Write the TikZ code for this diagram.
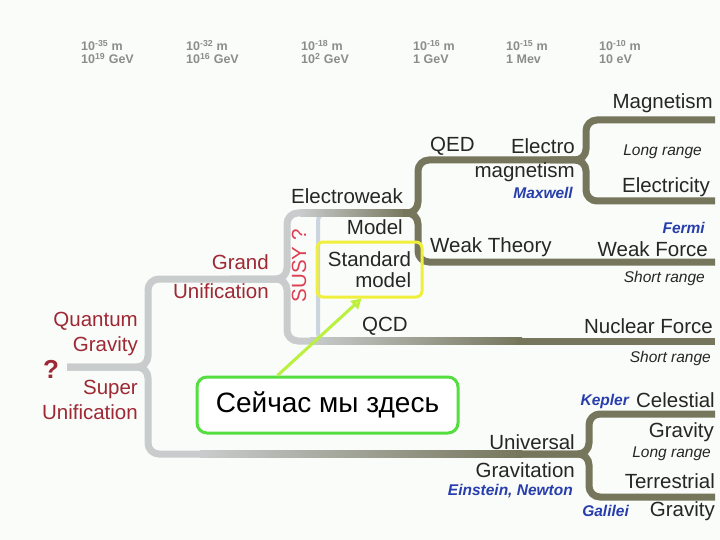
\documentclass[tikz,border=0pt]{standalone}
\usepackage{fontspec}
\setmainfont{Liberation Sans}
\usetikzlibrary{arrows.meta}

\definecolor{olivebr}{RGB}{118,118,92}
\definecolor{greybr}{RGB}{200,204,204}
\definecolor{thinbr}{RGB}{204,212,224}
\definecolor{txt}{RGB}{38,38,38}
\definecolor{gutred}{RGB}{158,40,52}
\definecolor{susyred}{RGB}{222,62,82}
\definecolor{whoblue}{RGB}{40,62,172}
\definecolor{hdrgrey}{RGB}{140,140,140}
\definecolor{smyellow}{RGB}{240,240,60}
\definecolor{heregreen}{RGB}{84,222,64}
\definecolor{pinline}{RGB}{186,240,62}
\definecolor{paper}{RGB}{249,252,249}

\newcommand{\ex}[1]{\textsuperscript{#1}}

\begin{document}
\begin{tikzpicture}[x=1pt,y=-1pt,>=Triangle,
    lbl/.style={inner sep=0pt,text=txt,font=\fontsize{20.5}{23}\selectfont},
    gut/.style={lbl,text=gutred,align=right},
    note/.style={inner sep=0pt,text=txt,font=\fontsize{15.5}{18}\selectfont\itshape},
    who/.style={inner sep=0pt,text=whoblue,font=\fontsize{15.5}{18}\selectfont\bfseries\itshape},
    hdr/.style={inner sep=0pt,anchor=west,align=left,text=hdrgrey,
                font=\fontsize{12.5}{12.5}\selectfont\bfseries},
    branch/.style={line width=7pt,rounded corners=11pt},
    fade/.style={left color=greybr,right color=olivebr},
    smbox/.style={draw=smyellow,line width=3pt,rounded corners=6pt,
                  minimum width=105pt,minimum height=55pt,align=right,
                  inner sep=0pt,text=txt,font=\fontsize{20.5}{21}\selectfont},
    herebox/.style={draw=heregreen,fill=white,line width=3pt,rounded corners=10pt,
                    minimum width=261pt,minimum height=56pt,text=black,
                    font=\fontsize{28}{30}\selectfont},
    pointer/.style={->,line width=3pt,draw=pinline,
                    -{Triangle[length=10pt,width=11pt,fill=smyellow]}}]
    \fill[paper] (0,0) rectangle (720,540);
    \useasboundingbox (0,0) rectangle (720,540);

    % energy scale
    \node[hdr] (h1) at (81,52) {10\ex{-35} m\\10\ex{19} GeV};
    \node[hdr] (h2) at (186,52) {10\ex{-32} m\\10\ex{16} GeV};
    \node[hdr] (h3) at (301,52) {10\ex{-18} m\\10\ex{2} GeV};
    \node[hdr] (h4) at (413,52) {10\ex{-16} m\\1 GeV};
    \node[hdr] (h5) at (506,52) {10\ex{-15} m\\1 Mev};
    \node[hdr] (h6) at (599,52) {10\ex{-10} m\\10 eV};

    \coordinate (root) at (67,367);

    % branches
    \draw[line width=4pt,thinbr,rounded corners=8pt] (332,213) -| (318,341) -- (332,341);

    \draw[branch,greybr] (root) -| (148,279) -| (287,213) -- (302,213);
    \draw[branch,greybr] (230,279) -| (287,341) -- (312,341);
    \draw[branch,greybr] (root) -| (148,454) -- (202,454);

    \shade[fade] (300,209.5) rectangle (408,216.5);
    \shade[fade] (310,337.5) rectangle (522,344.5);
    \shade[fade] (200,450.5) rectangle (522,457.5);

    \draw[branch,olivebr] (403,213) -| (418,160) -| (586,120) -- (715,120);
    \draw[branch,olivebr] (403,213) -| (418,262) -- (715,262);
    \draw[branch,olivebr] (550,160) -| (586,201) -- (715,201);
    \draw[branch,olivebr] (516,341) -- (715,341);
    \draw[branch,olivebr] (516,454) -| (589,414) -- (715,414);
    \draw[branch,olivebr] (516,454) -| (589,497) -- (715,497);

    % unification labels
    \node[inner sep=0pt,text=gutred,font=\fontsize{26}{28}\selectfont\bfseries]
        (qmark) at (51,369) {?};
    \node[gut,anchor=east] (qg) at (138,334) {Quantum\\[2pt]Gravity};
    \node[gut,anchor=east] (su) at (138,400) {Super\\[2pt]Unification};
    \node[gut,anchor=east] (gu) at (269,277) {Grand\\[6pt]Unification};
    \node[lbl,text=susyred,rotate=90] (susy) at (299,266) {SUSY ?};

    \node[lbl,anchor=east] (ew) at (403,196) {Electroweak};
    \node[lbl,anchor=east] (mdl) at (403,227) {Model};
    \node[smbox] (sm) at (369.5,269.5) {Standard\\model};
    \node[lbl] (qcd) at (385,326) {QCD};

    \node[lbl,anchor=west] (qed) at (430,146) {QED};
    \node[lbl,anchor=east] (el) at (575,146) {Electro};
    \node[lbl,anchor=east] (mag) at (575,172) {magnetism};
    \node[who,anchor=east] (maxw) at (573,193) {Maxwell};
    \node[lbl,anchor=west] (wt) at (430,247) {Weak Theory};

    % forces
    \node[lbl,anchor=east] (fmag) at (713,103) {Magnetism};
    \node[note,anchor=east] (lr1) at (702,152) {Long range};
    \node[lbl,anchor=east] (fel) at (710,187) {Electricity};
    \node[who,anchor=east] (fermi) at (705,228) {Fermi};
    \node[lbl,anchor=east] (fweak) at (708,249) {Weak Force};
    \node[note,anchor=east] (sr1) at (705,278) {Short range};
    \node[lbl,anchor=east] (fnuc) at (713,326) {Nuclear Force};
    \node[note,anchor=east] (sr2) at (711,358) {Short range};

    \node[who,anchor=east] (kepler) at (629,401) {Kepler};
    \node[lbl,anchor=east] (fcel) at (715,400) {Celestial};
    \node[lbl,anchor=east] (fcg) at (714,432) {Gravity};
    \node[note,anchor=east] (lr2) at (711,454) {Long range};
    \node[lbl,anchor=east] (fter) at (715,481) {Terrestrial};
    \node[lbl,anchor=east] (ftg) at (715,511) {Gravity};
    \node[who,anchor=east] (galilei) at (629,511) {Galilei};

    \node[lbl,anchor=east] (univ) at (575,442) {Universal};
    \node[lbl,anchor=east] (grav) at (575,470) {Gravitation};
    \node[who,anchor=east] (einst) at (573,491) {Einstein, Newton};

    % we are here
    \node[herebox] (here) at (327.5,405) {Сейчас мы здесь};
    \coordinate (pin) at ([xshift=-50pt]here.north);
    \draw[pointer] (pin) -- ([xshift=-8pt]sm.south);
\end{tikzpicture}
\end{document}
